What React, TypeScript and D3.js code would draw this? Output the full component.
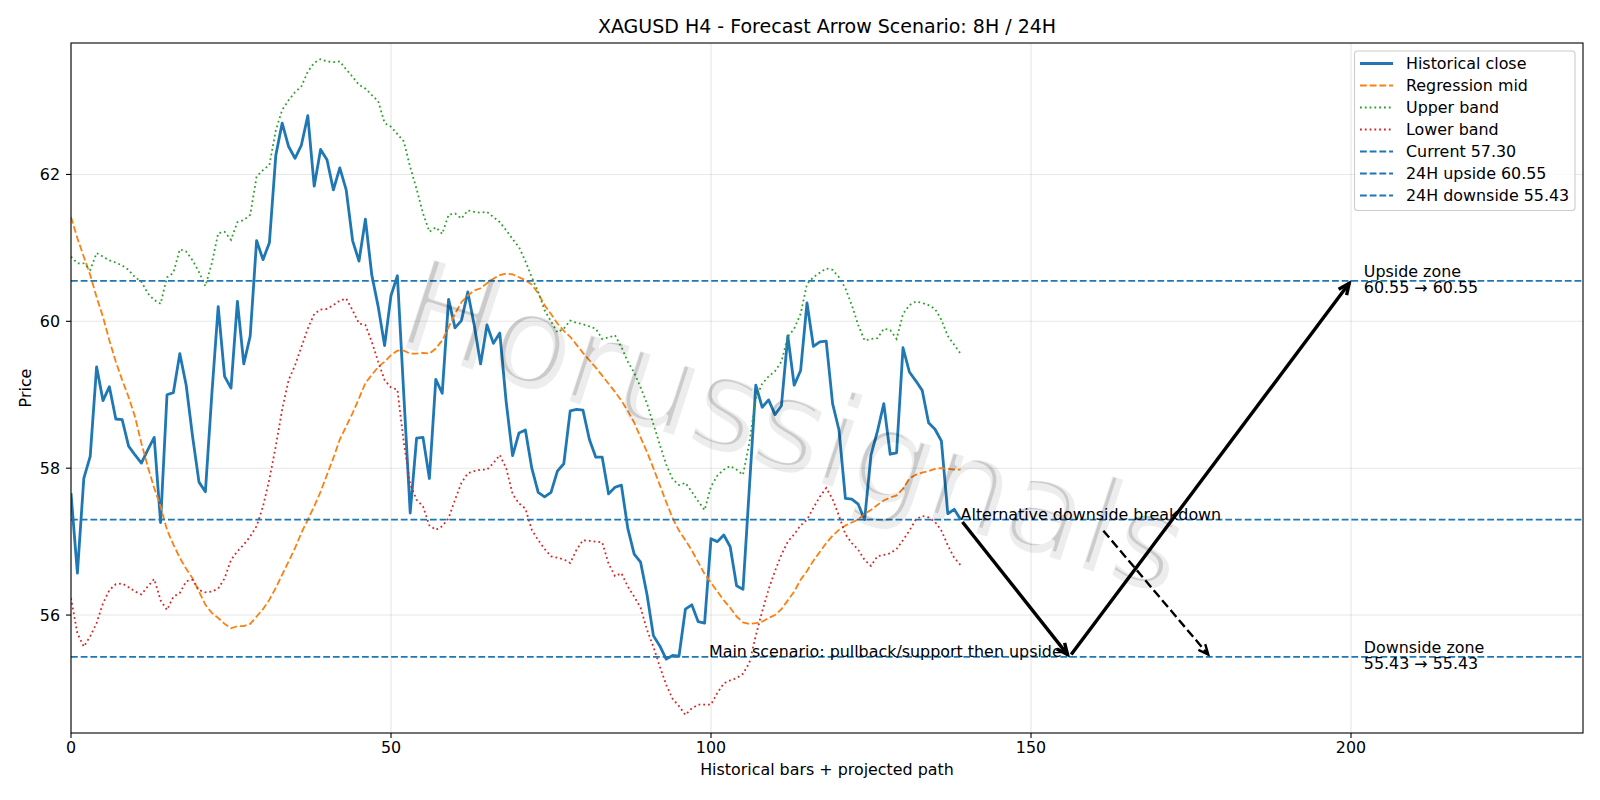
import React from 'react';
import * as d3 from 'd3';

// historical close, one value per H4 bar (0..139)
const closePrices = [
  57.66, 56.57, 57.86, 58.16, 59.38, 58.92, 59.11, 58.67, 58.66, 58.3,
  58.18, 58.07, 58.25, 58.42, 57.26, 59.0, 59.03, 59.56, 59.13, 58.43,
  57.81, 57.68, 59.0, 60.2, 59.25, 59.09, 60.27, 59.42, 59.8, 61.1,
  60.84, 61.07, 62.26, 62.7, 62.38, 62.22, 62.4, 62.8, 61.84, 62.34,
  62.2, 61.79, 62.09, 61.79, 61.1, 60.82, 61.39, 60.63, 60.2, 59.67,
  60.35, 60.62, 59.0, 57.39, 58.41, 58.42, 57.86, 59.21, 59.02, 60.3,
  59.91, 60.01, 60.4, 59.95, 59.42, 59.95, 59.7, 59.84, 58.9, 58.17,
  58.48, 58.52, 58.0, 57.67, 57.61, 57.67, 57.96, 58.06, 58.78, 58.8,
  58.79, 58.39, 58.15, 58.15, 57.65, 57.74, 57.77, 57.18, 56.83, 56.72,
  56.28, 55.72, 55.58, 55.4, 55.45, 55.44, 56.08, 56.14, 55.91, 55.89,
  57.04, 57.0, 57.09, 56.93, 56.4, 56.35, 57.74, 59.13, 58.83, 58.93,
  58.73, 58.85, 59.8, 59.13, 59.33, 60.25, 59.66, 59.72, 59.73, 58.88,
  58.52, 57.59, 57.58, 57.51, 57.3, 58.18, 58.5, 58.88, 58.19, 58.21,
  59.64, 59.31, 59.19, 59.06, 58.62, 58.53, 58.37, 57.38, 57.44, 57.3,
];

const regressionMid = [
  61.42, 61.13, 60.88, 60.63, 60.33, 60.06, 59.74, 59.45, 59.2, 58.97,
  58.7, 58.34, 58.02, 57.73, 57.48, 57.16, 56.96, 56.78, 56.63, 56.5,
  56.32, 56.14, 56.03, 55.96, 55.88, 55.82, 55.85, 55.85, 55.88, 55.98,
  56.08, 56.21, 56.37, 56.55, 56.73, 56.91, 57.12, 57.3, 57.48, 57.68,
  57.91, 58.14, 58.39, 58.57, 58.75, 58.95, 59.16, 59.27, 59.38, 59.45,
  59.54, 59.6, 59.6, 59.56, 59.56, 59.57, 59.56, 59.63, 59.74, 59.92,
  60.1, 60.26, 60.35, 60.42, 60.45, 60.52, 60.58, 60.63, 60.65, 60.64,
  60.6, 60.56, 60.5, 60.38, 60.22, 60.1, 59.97, 59.87, 59.79, 59.68,
  59.57, 59.47, 59.37, 59.26, 59.15, 59.04, 58.92, 58.78, 58.62, 58.42,
  58.22, 58.0, 57.77, 57.54, 57.32, 57.15, 57.02, 56.88, 56.72, 56.56,
  56.44, 56.32, 56.2, 56.1, 55.98, 55.9, 55.88, 55.89, 55.91, 55.96,
  56.0, 56.08, 56.2, 56.32, 56.48, 56.6, 56.74, 56.86, 56.98, 57.08,
  57.16, 57.22, 57.26, 57.3, 57.38, 57.43, 57.5, 57.56, 57.6, 57.63,
  57.72, 57.86, 57.91, 57.94, 57.96, 57.99, 58.0, 57.99, 57.98, 57.98,
];

const upperBand = [
  60.88, 60.79, 60.79, 60.7, 60.93, 60.88, 60.83, 60.8, 60.76, 60.7,
  60.6, 60.54, 60.38, 60.29, 60.24, 60.6, 60.66, 60.98, 60.95, 60.83,
  60.67, 60.48, 60.79, 61.2, 61.22, 61.11, 61.35, 61.38, 61.45, 61.97,
  62.06, 62.13, 62.6, 62.88, 63.01, 63.12, 63.2, 63.4, 63.52, 63.57,
  63.54, 63.53, 63.54, 63.43, 63.33, 63.22, 63.17, 63.08, 63.0, 62.7,
  62.65, 62.55, 62.45, 62.1, 61.8, 61.47, 61.22, 61.28, 61.19, 61.45,
  61.47, 61.4, 61.51, 61.49, 61.48, 61.49, 61.42, 61.35, 61.24, 61.12,
  61.01, 60.82, 60.6, 60.4, 60.15, 60.0, 59.85, 59.9, 60.01, 59.98,
  59.96, 59.93, 59.9, 59.76, 59.78, 59.81, 59.65, 59.45, 59.3, 59.1,
  58.88, 58.6, 58.32, 58.05, 57.85, 57.77, 57.8, 57.68, 57.55, 57.43,
  57.75, 57.9, 57.98, 58.03, 57.98, 57.91, 58.35, 58.95, 59.15, 59.25,
  59.32, 59.45, 59.79, 59.9, 60.1, 60.51, 60.6, 60.66, 60.72, 60.7,
  60.6, 60.45, 60.22, 59.95, 59.74, 59.76, 59.77, 59.9, 59.88, 59.76,
  60.1, 60.22, 60.27, 60.25, 60.22, 60.17, 60.02, 59.8, 59.68, 59.56,
];

const lowerBand = [
  56.23, 55.75, 55.57, 55.71, 55.89, 56.16, 56.34, 56.42, 56.43, 56.38,
  56.32, 56.28, 56.39, 56.49, 56.2, 56.07, 56.25, 56.3, 56.46, 56.48,
  56.34, 56.31, 56.32, 56.36, 56.5, 56.75, 56.87, 56.96, 57.07, 57.21,
  57.48, 57.85, 58.3, 58.8, 59.2, 59.4, 59.65, 59.9, 60.1, 60.16,
  60.17, 60.22, 60.28, 60.31, 60.15, 59.97, 59.95, 59.72, 59.45, 59.2,
  59.1, 59.07, 58.35, 57.78, 57.57, 57.48, 57.22, 57.16, 57.21, 57.32,
  57.57, 57.8, 57.93, 57.96, 57.98, 57.98, 58.07, 58.18, 58.0, 57.65,
  57.52, 57.45, 57.16, 57.02, 56.9, 56.8, 56.78, 56.76, 56.71, 56.89,
  57.02, 57.01, 57.0, 56.99, 56.7, 56.53, 56.57, 56.39, 56.25, 56.1,
  55.8, 55.57, 55.3, 55.05, 54.86, 54.76, 54.64, 54.73, 54.78, 54.78,
  54.78, 54.94, 55.07, 55.11, 55.14, 55.2, 55.35, 55.72, 56.05, 56.35,
  56.6, 56.82, 57.0, 57.1, 57.22, 57.3, 57.46, 57.61, 57.73, 57.58,
  57.35, 57.1, 56.98, 56.89, 56.75, 56.67, 56.8, 56.82, 56.84, 56.9,
  57.02, 57.15, 57.3, 57.35, 57.33, 57.27, 57.15, 56.95, 56.78, 56.68,
];

const currentLevel = 57.3;
const upsideLevel = 60.55;
const downsideLevel = 55.43;

const xTicks = [0, 50, 100, 150, 200];
const yTicks = [56, 58, 60, 62];

// projected path: [bar, price] pairs
const mainPath = [[139, currentLevel], [156, downsideLevel], [200, upsideLevel]];
const altPath = [[161, 57.18], [178, downsideLevel]];

const FONT = 'DejaVu Sans, sans-serif';
const FS = 15.9;

const x = d3.scaleLinear().domain([0, 236.25]).range([71, 1583]);
const y = d3.scaleLinear().domain([54.394, 63.79]).range([733, 43]);

const seriesLine = d3.line<number>().x((d, i) => x(i)).y(d => y(d));

function arrow(from: number[], to: number[], headLen: number, headW: number) {
  const x1 = x(from[0]), y1 = y(from[1]), x2 = x(to[0]), y2 = y(to[1]);
  const len = Math.hypot(x2 - x1, y2 - y1);
  const ux = (x2 - x1) / len, uy = (y2 - y1) / len;
  const shrink = 3;
  const sx = x1 + ux * shrink, sy = y1 + uy * shrink;
  const ex = x2 - ux * shrink, ey = y2 - uy * shrink;
  const bx = ex - ux * headLen, by = ey - uy * headLen;
  const head = `M${bx - uy * headW},${by + ux * headW}L${ex},${ey}L${bx + uy * headW},${by - ux * headW}`;
  return { shaft: `M${sx},${sy}L${ex},${ey}`, head };
}

const legendItems = [
  { label: 'Historical close', color: '#1f77b4', width: 2.8, dash: '' },
  { label: 'Regression mid', color: '#ff7f0e', width: 1.8, dash: '6.8 2.9' },
  { label: 'Upper band', color: '#2ca02c', width: 1.8, dash: '1.8 3' },
  { label: 'Lower band', color: '#d62728', width: 1.8, dash: '1.8 3' },
  { label: `Current ${currentLevel.toFixed(2)}`, color: '#1f77b4', width: 1.8, dash: '6.8 2.9' },
  { label: `24H upside ${upsideLevel.toFixed(2)}`, color: '#1f77b4', width: 1.8, dash: '6.8 2.9' },
  { label: `24H downside ${downsideLevel.toFixed(2)}`, color: '#1f77b4', width: 1.8, dash: '6.8 2.9' },
];

const WATERMARK = 'Horussignals';

export default function App() {
  const [x0, x1] = x.range();
  const [yb, yt] = y.range();
  const mainArrows = [
    arrow(mainPath[0], mainPath[1], 11, 5),
    arrow(mainPath[1], mainPath[2], 11, 5),
  ];
  const altArrow = arrow(altPath[0], altPath[1], 10, 4.5);
  const levels = [currentLevel, upsideLevel, downsideLevel];
  const wmTransform = `translate(${x0 + (x1 - x0) * 0.478},${yt + (yb - yt) * 0.556}) rotate(18)`;

  return (
    <svg width={1600} height={800} style={{ position: 'absolute', left: 0, top: 0, background: '#fff' }}
      fontFamily={FONT}>
      <defs>
        <clipPath id="plot">
          <rect x={x0} y={yt} width={x1 - x0} height={yb - yt} />
        </clipPath>
        {/* thin version of the watermark glyphs: fill eroded by a black stroke */}
        <mask id="wmThin" maskUnits="userSpaceOnUse" x={0} y={0} width={1600} height={800}>
          <rect width={1600} height={800} fill="#000" />
          <g transform={wmTransform} fontSize={127} textAnchor="middle" dominantBaseline="central">
            <text x={-2} y={-2} fill="#fff" stroke="#000" strokeWidth={8} strokeLinejoin="round">{WATERMARK}</text>
          </g>
        </mask>
      </defs>
      <rect width={1600} height={800} fill="#fff" />

      {/* grid */}
      {xTicks.map(t => (
        <line key={'gx' + t} x1={x(t)} x2={x(t)} y1={yt} y2={yb} stroke="#b0b0b0" strokeOpacity={0.3} strokeWidth={1.1} />
      ))}
      {yTicks.map(t => (
        <line key={'gy' + t} x1={x0} x2={x1} y1={y(t)} y2={y(t)} stroke="#b0b0b0" strokeOpacity={0.3} strokeWidth={1.1} />
      ))}

      <g clipPath="url(#plot)" fill="none">
        <path d={seriesLine(closePrices)!} stroke="#1f77b4" strokeWidth={2.8} strokeLinejoin="round" />
        <path d={seriesLine(regressionMid)!} stroke="#ff7f0e" strokeWidth={1.8} strokeDasharray="6.8 2.9" />
        <path d={seriesLine(upperBand)!} stroke="#2ca02c" strokeWidth={1.8} strokeDasharray="1.8 3" />
        <path d={seriesLine(lowerBand)!} stroke="#d62728" strokeWidth={1.8} strokeDasharray="1.8 3" />
        {levels.map(v => (
          <line key={v} x1={x0} x2={x1} y1={y(v)} y2={y(v)} stroke="#1f77b4" strokeWidth={1.8} strokeDasharray="6.8 2.9" />
        ))}
        {mainArrows.map((a, i) => (
          <g key={i} stroke="#000" strokeWidth={3.4}>
            <path d={a.shaft} />
            <path d={a.head} strokeLinejoin="miter" />
          </g>
        ))}
        <path d={altArrow.shaft} stroke="#000" strokeWidth={2.4} strokeDasharray="9 4" />
        <path d={altArrow.head} stroke="#000" strokeWidth={2.4} />
      </g>

      {/* annotations */}
      <g fontSize={FS} fill="#000">
        <text x={x(139)} y={y(currentLevel)}>Alternative downside breakdown</text>
        <text x={x(154.8)} y={y(downsideLevel)} textAnchor="end">Main scenario: pullback/support then upside</text>
        <text x={x(202)} y={y(upsideLevel)}>
          <tspan x={x(202)} dy={-4}>Upside zone</tspan>
          <tspan x={x(202)} dy={16}>{`${upsideLevel.toFixed(2)} → ${upsideLevel.toFixed(2)}`}</tspan>
        </text>
        <text x={x(202)} y={y(downsideLevel)}>
          <tspan x={x(202)} dy={-4}>Downside zone</tspan>
          <tspan x={x(202)} dy={16.5}>{`${downsideLevel.toFixed(2)} → ${downsideLevel.toFixed(2)}`}</tspan>
        </text>
      </g>

      {/* watermark: soft wide shadow + thin darker strokes */}
      <g transform={wmTransform} fontSize={127} textAnchor="middle" dominantBaseline="central">
        <text x={1} y={1} fill="#000" fillOpacity={0.07}>{WATERMARK}</text>
      </g>
      <rect width={1600} height={800} fill="#000" fillOpacity={0.14} mask="url(#wmThin)" />

      {/* spines */}
      <rect x={x0} y={yt} width={x1 - x0} height={yb - yt} fill="none" stroke="#000" strokeWidth={1.1} />

      {/* ticks */}
      <g fontSize={FS} fill="#000">
        {xTicks.map(t => (
          <g key={'xt' + t}>
            <line x1={x(t)} x2={x(t)} y1={yb} y2={yb + 5} stroke="#000" strokeWidth={1.1} />
            <text x={x(t)} y={yb + 19.5} textAnchor="middle">{t}</text>
          </g>
        ))}
        {yTicks.map(t => (
          <g key={'yt' + t}>
            <line x1={x0 - 5} x2={x0} y1={y(t)} y2={y(t)} stroke="#000" strokeWidth={1.1} />
            <text x={x0 - 11} y={y(t)} textAnchor="end" dominantBaseline="central">{t}</text>
          </g>
        ))}
        <text x={(x0 + x1) / 2} y={775} textAnchor="middle">Historical bars + projected path</text>
        <text transform={`translate(25,${(yt + yb) / 2}) rotate(-90)`} textAnchor="middle" dominantBaseline="central">Price</text>
        <text x={(x0 + x1) / 2} y={33} textAnchor="middle" fontSize={19}>XAGUSD H4 - Forecast Arrow Scenario: 8H / 24H</text>
      </g>

      {/* legend */}
      <g>
        <rect x={1354.5} y={51} width={220.5} height={159.5} rx={3} fill="#fff" fillOpacity={0.8} stroke="#cccccc" strokeWidth={1.1} />
        {legendItems.map((it, i) => {
          const cy = 63.5 + i * 22;
          return (
            <g key={it.label}>
              <line x1={1360} x2={1393} y1={cy} y2={cy} stroke={it.color} strokeWidth={it.width} strokeDasharray={it.dash || undefined} />
              <text x={1406} y={cy} fontSize={FS} dominantBaseline="central">{it.label}</text>
            </g>
          );
        })}
      </g>
    </svg>
  );
}
